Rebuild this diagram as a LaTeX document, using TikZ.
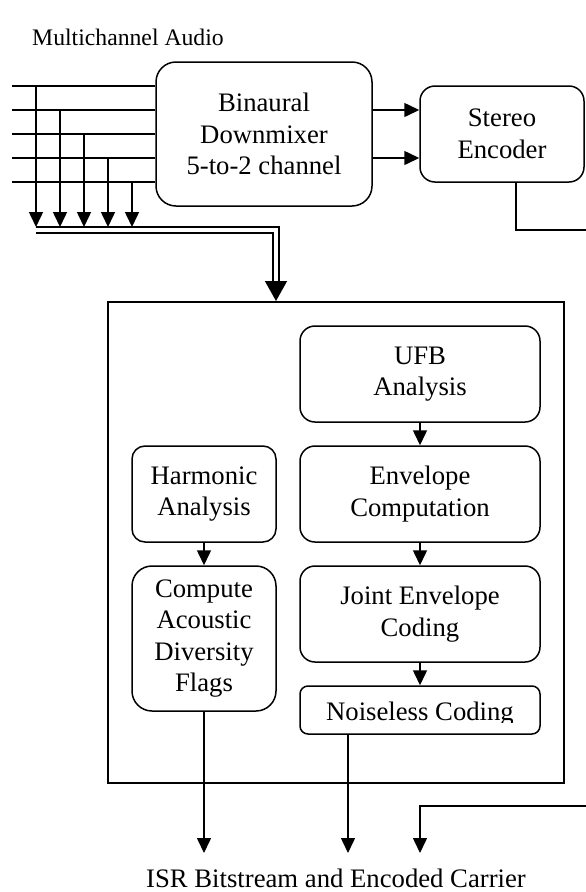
\documentclass[tikz,border=0pt]{standalone}
\usepackage{fontspec}
\setmainfont{Liberation Serif}
\usetikzlibrary{arrows.meta}
\begin{document}
\begin{tikzpicture}[x=1pt,y=-1pt,
  every node/.style={font=\fontsize{26.7}{31.5}\selectfont},
  blk/.style={draw, line width=1.5pt, align=center, inner sep=0pt},
  ln/.style={line width=1.5pt},
  arr/.style={line width=1.5pt, -{Triangle[width=14pt,length=15pt]}},
  bigarr/.style={line width=1.5pt, -{Triangle[width=22pt,length=20pt]}},
  dbl/.style={double, double distance=4.5pt, line width=1.5pt}]
\useasboundingbox (0,0) rectangle (586,892);

% title
\node[anchor=base west, inner sep=0pt, font=\fontsize{23.7}{28}\selectfont] (title) at (32,45) {Multichannel Audio};

% top boxes
\node[blk, rounded corners=20pt, minimum width=216pt, minimum height=144pt] (bin) at (264,134) {Binaural\\Downmixer\\5-to-2 channel};
\node[blk, rounded corners=15pt, minimum width=164pt, minimum height=96pt] (st) at (502,134) {Stereo\\Encoder};

% outer box
\node[draw, line width=2pt, minimum width=456pt, minimum height=481pt, inner sep=0pt] (outer) at (336,542.5) {};

% inner boxes
\node[blk, rounded corners=15pt, minimum width=240pt, minimum height=96pt] (ufb) at (420,374) {UFB\\Analysis};
\node[blk, rounded corners=15pt, minimum width=240pt, minimum height=96pt] (env) at (420,494) {Envelope\\Computation};
\node[blk, rounded corners=15pt, minimum width=240pt, minimum height=96pt] (joint) at (420,614) {Joint Envelope\\Coding};
\node[blk, rounded corners=8pt, minimum width=240pt, minimum height=48pt] (noise) at (420,710) {};
\begin{scope}
  \clip (300,686) rectangle (540,722.5);
  \node[anchor=base, inner sep=0pt] (noisetxt) at (420,720) {Noiseless Coding};
\end{scope}
\node[blk, rounded corners=13pt, minimum width=144pt, minimum height=96pt] (harm) at (204,494) {Harmonic\\Analysis};
\node[blk, rounded corners=20pt, minimum width=144pt, minimum height=145pt] (ca) at (204,638.5) {Compute\\Acoustic\\Diversity\\Flags};

% bottom text
\node[anchor=base, inner sep=0pt] (out) at (336,887) {ISR Bitstream and Encoded Carrier};

% inputs
\foreach \i/\y/\x in {1/86/36, 2/110/60, 3/134/84, 4/158/108, 5/182/132} {
  \coordinate (in\i) at (12,\y);
  \coordinate (tap\i) at (\x,\y);
  \coordinate (bus\i) at (\x,227);
  \draw[ln] (in\i) -- (bin.west |- in\i);
  \draw[arr] (tap\i) -- (bus\i);
}

% bus (double line) to outer box
\coordinate (busL) at (36,230);
\coordinate (busturn) at (276,282);
\draw[dbl] (busL) -| (busturn);
\draw[bigarr] (busturn) -- (busturn |- outer.north);

% downmixer to stereo encoder
\coordinate (s1) at (372,110);
\coordinate (s2) at (372,158);
\draw[arr] (s1) -- (st.west |- s1);
\draw[arr] (s2) -- (st.west |- s2);

% stereo encoder output off right edge
\coordinate (stout) at (516,182);
\coordinate (edgeA) at (586,230);
\draw[ln] (stout) |- (edgeA);

% inner arrows
\draw[arr] (ufb) -- (env);
\draw[arr] (env) -- (joint);
\draw[arr] (joint.south) -- (noise.north);
\draw[arr] (harm) -- (ca);

% outputs
\coordinate (o1) at (204,853);
\coordinate (o2) at (348,853);
\coordinate (o3) at (420,853);
\coordinate (edgeB) at (586,806);
\draw[arr] (ca.south) -- (o1);
\draw[arr] (noise.south -| o2) -- (o2);
\draw[arr] (edgeB) -| (o3);
\end{tikzpicture}
\end{document}
